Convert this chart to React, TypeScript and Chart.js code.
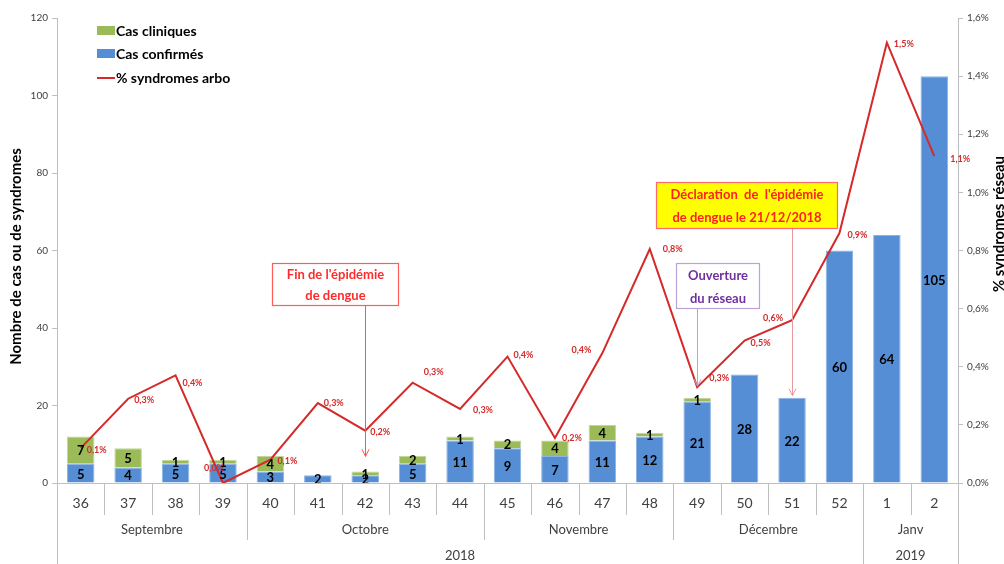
import { useEffect, useRef } from 'react';
import { Chart, registerables } from 'chart.js';

Chart.register(...registerables);

const FONT = 'Lato, "Open Sans", "DejaVu Sans", sans-serif';

const weeks = ['36', '37', '38', '39', '40', '41', '42', '43', '44', '45', '46', '47', '48', '49', '50', '51', '52', '1', '2'];
const casConfirmes = [5, 4, 5, 5, 3, 2, 2, 5, 11, 9, 7, 11, 12, 21, 28, 22, 60, 64, 105];
const casCliniques = [7, 5, 1, 1, 4, 0, 1, 2, 1, 2, 4, 4, 1, 1, 0, 0, 0, 0, 0];
const syndromesArbo = [0.12, 0.29, 0.37, 0.0, 0.08, 0.275, 0.18, 0.345, 0.255, 0.435, 0.155, 0.447, 0.805, 0.33, 0.49, 0.56, 0.86, 1.515, 1.125];

const monthLabels = ['Septembre', 'Octobre', 'Novembre', 'Décembre', 'Janv'];
const monthSpans = [4, 5, 4, 4, 2];
const yearLabels = ['2018', '2019'];
const yearSpans = [17, 2];

const leftTicksMax = 120;
const leftTicksStep = 20;
const rightTicksMax = 1.6;
const rightTicksStep = 0.2;

// label nudges for percentage labels (layout only)
const pctLabelNudge: [number, number, string][] = [
  [6, 2, 'left'], [6, 1, 'left'], [7, 8, 'left'], [1, -15, 'right'], [7, 1, 'left'],
  [6, 0, 'left'], [5, 1, 'left'], [11, -11, 'left'], [13, 1, 'left'], [6, -1, 'left'],
  [7, 0, 'left'], [-11, -3, 'right'], [13, 0, 'left'], [12, -9, 'left'], [6, 2, 'left'],
  [-9, -2, 'right'], [8, 2, 'left'], [7, 1, 'left'], [16, 3, 'left'],
];

const BLUE = '#558ED5';
const GREEN = '#9BBB59';
const RED = '#D42A2A';
const GRAY = '#BFBFBF';
const TEXT = '#404040';

function drawArrow(ctx: CanvasRenderingContext2D, x: number, y0: number, y1: number, color: string) {
  ctx.save();
  ctx.strokeStyle = color;
  ctx.lineWidth = 1;
  ctx.beginPath();
  ctx.moveTo(x, y0);
  ctx.lineTo(x, y1);
  ctx.stroke();
  ctx.beginPath();
  ctx.moveTo(x - 3.5, y1 - 7);
  ctx.lineTo(x, y1);
  ctx.lineTo(x + 3.5, y1 - 7);
  ctx.stroke();
  ctx.restore();
}

function drawBox(ctx: CanvasRenderingContext2D, x0: number, y0: number, x1: number, y1: number, fill: string, stroke: string, textColor: string, lines: string[], size: number) {
  ctx.save();
  ctx.fillStyle = fill;
  ctx.fillRect(x0, y0, x1 - x0, y1 - y0);
  ctx.strokeStyle = stroke;
  ctx.lineWidth = 1.2;
  ctx.strokeRect(x0 + 0.5, y0 + 0.5, x1 - x0 - 1, y1 - y0 - 1);
  ctx.fillStyle = textColor;
  ctx.font = `bold ${size}px ${FONT}`;
  ctx.textAlign = 'center';
  ctx.textBaseline = 'middle';
  const cx = (x0 + x1) / 2;
  const h = (y1 - y0) / lines.length;
  lines.forEach((l, i) => ctx.fillText(l, cx, y0 + h * (i + 0.5) + 1));
  ctx.restore();
}

const customPlugin = {
  id: 'customDraw',
  afterDatasetsDraw(chart: any) {
    const ctx: CanvasRenderingContext2D = chart.ctx;
    const xs = chart.scales.x;
    const ys = chart.scales.y;
    const y1s = chart.scales.y1;
    const px = (i: number) => xs.getPixelForValue(i);

    // bar value labels
    ctx.save();
    ctx.font = `bold 13px ${FONT}`;
    ctx.fillStyle = '#000';
    ctx.textAlign = 'center';
    ctx.textBaseline = 'middle';
    casConfirmes.forEach((v, i) => {
      const x = px(i);
      if (v > 0) ctx.fillText(String(v), x, (ys.getPixelForValue(0) + ys.getPixelForValue(v)) / 2 + 1);
      const c = casCliniques[i];
      if (c > 0) ctx.fillText(String(c), x, (ys.getPixelForValue(v) + ys.getPixelForValue(v + c)) / 2 + 1);
    });
    ctx.restore();

    // line labels
    ctx.save();
    ctx.font = `bold 9px ${FONT}`;
    ctx.fillStyle = RED;
    ctx.textBaseline = 'middle';
    syndromesArbo.forEach((v, i) => {
      const [dx, dy, al] = pctLabelNudge[i];
      ctx.textAlign = al as CanvasTextAlign;
      ctx.fillText(v.toFixed(1).replace('.', ',') + '%', px(i) + dx, y1s.getPixelForValue(v) + dy);
    });
    ctx.restore();
  },
  afterDraw(chart: any) {
    const ctx: CanvasRenderingContext2D = chart.ctx;
    const xs = chart.scales.x;
    const ys = chart.scales.y;
    const y1s = chart.scales.y1;
    const area = chart.chartArea;
    const px = (i: number) => xs.getPixelForValue(i);
    const n = weeks.length;
    const bottom = area.bottom;
    const H = chart.height;

    ctx.save();
    // x axis line
    ctx.strokeStyle = GRAY;
    ctx.lineWidth = 1;
    ctx.beginPath();
    ctx.moveTo(area.left - 5, Math.round(bottom) + 0.5);
    ctx.lineTo(area.right + 5, Math.round(bottom) + 0.5);
    ctx.stroke();

    // boundaries
    const boundary = (k: number) => (k === 0 ? area.left : k === n ? area.right : (px(k - 1) + px(k)) / 2);
    const monthEnds = new Set<number>();
    let acc = 0;
    monthSpans.forEach((s) => { acc += s; monthEnds.add(acc); });
    const yearEnds = new Set<number>();
    acc = 0;
    yearSpans.forEach((s) => { acc += s; yearEnds.add(acc); });
    for (let k = 0; k <= n; k++) {
      let yEnd = bottom + 32;
      if (monthEnds.has(k)) yEnd = bottom + 57;
      if (k === 0 || yearEnds.has(k)) yEnd = H;
      const bx = Math.round(boundary(k)) + 0.5;
      ctx.beginPath();
      ctx.moveTo(bx, bottom);
      ctx.lineTo(bx, yEnd);
      ctx.stroke();
    }

    // week labels
    ctx.fillStyle = TEXT;
    ctx.textAlign = 'center';
    ctx.textBaseline = 'middle';
    ctx.font = `14px ${FONT}`;
    weeks.forEach((w, i) => ctx.fillText(w, px(i), bottom + 20));

    // month labels
    ctx.font = `13px ${FONT}`;
    acc = 0;
    monthLabels.forEach((m, j) => {
      const a = boundary(acc);
      const b = boundary(acc + monthSpans[j]);
      ctx.fillText(m, (a + b) / 2, bottom + 47);
      acc += monthSpans[j];
    });
    acc = 0;
    yearLabels.forEach((m, j) => {
      const a = boundary(acc);
      const b = boundary(acc + yearSpans[j]);
      ctx.fillText(m, (a + b) / 2, bottom + 73);
      acc += yearSpans[j];
    });

    // axis titles
    ctx.fillStyle = '#000';
    ctx.font = `bold 15px ${FONT}`;
    ctx.save();
    ctx.translate(16, (area.top + area.bottom) / 2 + 6);
    ctx.rotate(-Math.PI / 2);
    ctx.fillText('Nombre de cas ou de syndromes', 0, 0);
    ctx.restore();
    ctx.save();
    ctx.translate(999, 224);
    ctx.rotate(-Math.PI / 2);
    ctx.fillText('% syndromes réseau', 0, 0);
    ctx.restore();

    // legend
    ctx.textAlign = 'left';
    ctx.font = `bold 14px ${FONT}`;
    ctx.fillStyle = GREEN;
    ctx.fillRect(97, 26, 18, 9);
    ctx.fillStyle = BLUE;
    ctx.fillRect(97, 49, 18, 9);
    ctx.strokeStyle = RED;
    ctx.lineWidth = 2;
    ctx.beginPath();
    ctx.moveTo(97, 78);
    ctx.lineTo(115, 78);
    ctx.stroke();
    ctx.fillStyle = '#000';
    ctx.fillText('Cas cliniques', 116, 31);
    ctx.fillText('Cas confirmés', 116, 54);
    ctx.fillText('% syndromes arbo', 116, 78);
    ctx.restore();

    // annotations
    const i42 = weeks.indexOf('42');
    const i49 = weeks.indexOf('49');
    const i51 = weeks.indexOf('51');
    drawBox(ctx, 272, 263, 399, 306, '#FFFFFF', '#FF5C5C', '#FF2A2A', ["Fin de l'épidémie", 'de dengue'], 13);
    drawArrow(ctx, Math.round(px(i42)) + 0.5, 306, ys.getPixelForValue(casConfirmes[i42] + casCliniques[i42]) - 15, '#FF5050');
    drawBox(ctx, 656, 182, 838, 229, '#FFFF00', '#FF6B6B', '#FF2020', ["Déclaration  de  l'épidémie", 'de dengue le 21/12/2018'], 13);
    drawArrow(ctx, Math.round(px(i51)) + 0.5, 229, ys.getPixelForValue(casConfirmes[i51] + casCliniques[i51]) - 2, '#E89A9A');
    drawBox(ctx, 676, 263, 760, 309, '#FFFFFF', '#B9A3DA', '#7030A0', ['Ouverture', 'du réseau'], 13);
    drawArrow(ctx, Math.round(px(i49)) + 0.5, 309, y1s.getPixelForValue(syndromesArbo[i49]) - 1, '#B4A3D8');
  },
};

export default function App() {
  const ref = useRef<HTMLCanvasElement>(null);
  useEffect(() => {
    if (!ref.current) return;
    const chart = new Chart(ref.current, {
      type: 'bar',
      data: {
        labels: weeks,
        datasets: [
          {
            type: 'line',
            label: '% syndromes arbo',
            data: syndromesArbo,
            yAxisID: 'y1',
            borderColor: RED,
            backgroundColor: RED,
            borderWidth: 2,
            pointRadius: 0,
            tension: 0,
            order: 0,
          } as any,
          {
            label: 'Cas confirmés',
            data: casConfirmes,
            backgroundColor: BLUE,
            borderColor: '#8DB3E2',
            borderWidth: 1,
            stack: 's',
            yAxisID: 'y',
            order: 1,
            categoryPercentage: 1,
            barPercentage: 0.58,
          },
          {
            label: 'Cas cliniques',
            data: casCliniques,
            backgroundColor: GREEN,
            borderColor: '#C3D69B',
            borderWidth: 1,
            stack: 's',
            yAxisID: 'y',
            order: 1,
            categoryPercentage: 1,
            barPercentage: 0.58,
          },
        ],
      },
      options: {
        responsive: false,
        animation: false,
        layout: { padding: { top: 18, left: 0, right: 0, bottom: 0 } },
        plugins: { legend: { display: false }, tooltip: { enabled: false } },
        scales: {
          x: {
            stacked: true,
            offset: true,
            grid: { display: false },
            border: { display: false },
            ticks: { display: false },
            afterFit: (s: any) => { s.height = 81; },
          },
          y: {
            position: 'left',
            stacked: true,
            min: 0,
            max: leftTicksMax,
            ticks: { stepSize: leftTicksStep, color: TEXT, font: { family: FONT, size: 10 }, padding: 4 },
            grid: { display: true, drawOnChartArea: false, drawTicks: true, tickLength: 5, color: GRAY },
            border: { display: true, color: GRAY },
            afterFit: (s: any) => { s.width = 57; },
          },
          y1: {
            position: 'right',
            min: 0,
            max: rightTicksMax,
            ticks: {
              stepSize: rightTicksStep,
              color: TEXT,
              font: { family: FONT, size: 10 },
              padding: 4,
              callback: (v: any) => Number(v).toFixed(1).replace('.', ',') + '%',
            },
            grid: { display: true, drawOnChartArea: false, drawTicks: true, tickLength: 5, color: GRAY },
            border: { display: true, color: GRAY },
            afterFit: (s: any) => { s.width = 46; },
          },
        },
      },
      plugins: [customPlugin],
    });
    return () => chart.destroy();
  }, []);
  return (
    <div style={{ position: 'fixed', left: 0, top: 0, width: 1004, height: 564, background: '#fff' }}>
      <canvas ref={ref} width={1004} height={564} style={{ width: 1004, height: 564 }} />
    </div>
  );
}
